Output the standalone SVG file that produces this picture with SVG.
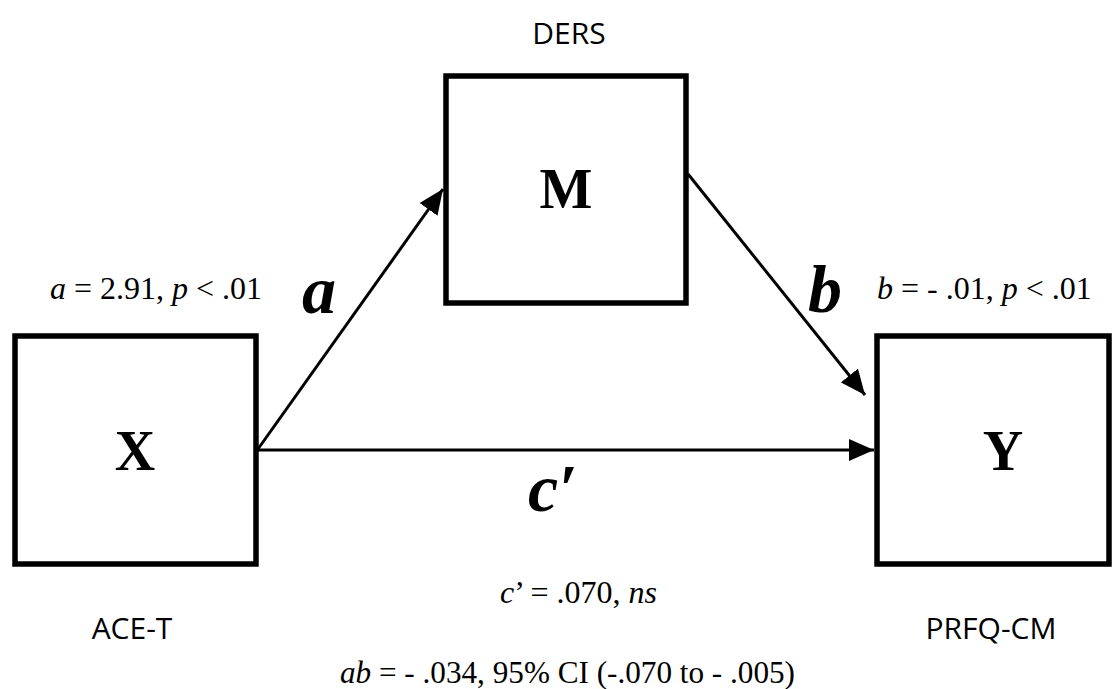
<svg xmlns="http://www.w3.org/2000/svg" width="1113" height="689" viewBox="0 0 1113 689">
<style>
.box{fill:#fff;stroke:#000;stroke-width:5.5}
.big{font-family:"Liberation Serif",serif;font-weight:bold;font-size:56px;text-anchor:middle;fill:#000}
.name{font-family:"Open Sans","Noto Sans",sans-serif;font-size:30px;text-anchor:middle;fill:#000}
.stat{font-family:"Liberation Serif",serif;font-size:32px;fill:#000}
.path{font-family:"Liberation Serif",serif;font-weight:bold;font-style:italic;font-size:68px;fill:#000}
.edge{stroke:#000;stroke-width:3;fill:none}
</style>
<defs>
<marker id="ah" markerUnits="userSpaceOnUse" markerWidth="26" markerHeight="22" refX="25" refY="11" orient="auto">
<path d="M0,0 L25,11 L0,22 Z" fill="#000"/>
</marker>
</defs>
<rect width="1113" height="689" fill="#fff"/>
<g id="connectors">
<line class="edge" x1="258" y1="449" x2="443" y2="189" marker-end="url(#ah)"/>
<line class="edge" x1="688" y1="174" x2="865" y2="395" marker-end="url(#ah)"/>
<line class="edge" x1="258" y1="450" x2="874" y2="450" marker-end="url(#ah)"/>
</g>
<g id="node-X">
<rect class="box" x="15" y="336" width="241" height="228"/>
<text class="big" x="135" y="470">X</text>
<text class="name" x="132" y="639">ACE-T</text>
</g>
<g id="node-M">
<rect class="box" x="446" y="76" width="240" height="227"/>
<text class="big" x="566" y="208">M</text>
<text class="name" x="569" y="44">DERS</text>
</g>
<g id="node-Y">
<rect class="box" x="877" y="336" width="232" height="228"/>
<text class="big" x="1003" y="470">Y</text>
<text class="name" x="991" y="639">PRFQ-CM</text>
</g>
<g id="labels">
<text class="path" x="302" y="313">a</text>
<text class="path" x="808" y="312">b</text>
<text class="path" x="528" y="511">c′</text>
<text class="stat" x="50" y="299"><tspan font-style="italic">a</tspan> = 2.91, <tspan font-style="italic">p</tspan> &lt; .01</text>
<text class="stat" x="877" y="299"><tspan font-style="italic">b</tspan> = - .01, <tspan font-style="italic">p</tspan> &lt; .01</text>
<text class="stat" x="500" y="603"><tspan font-style="italic">c</tspan>’ = .070, <tspan font-style="italic">ns</tspan></text>
<text class="stat" x="340" y="683" textLength="455" lengthAdjust="spacingAndGlyphs"><tspan font-style="italic">ab</tspan> = - .034, 95% CI (-.070 to - .005)</text>
</g>
</svg>
